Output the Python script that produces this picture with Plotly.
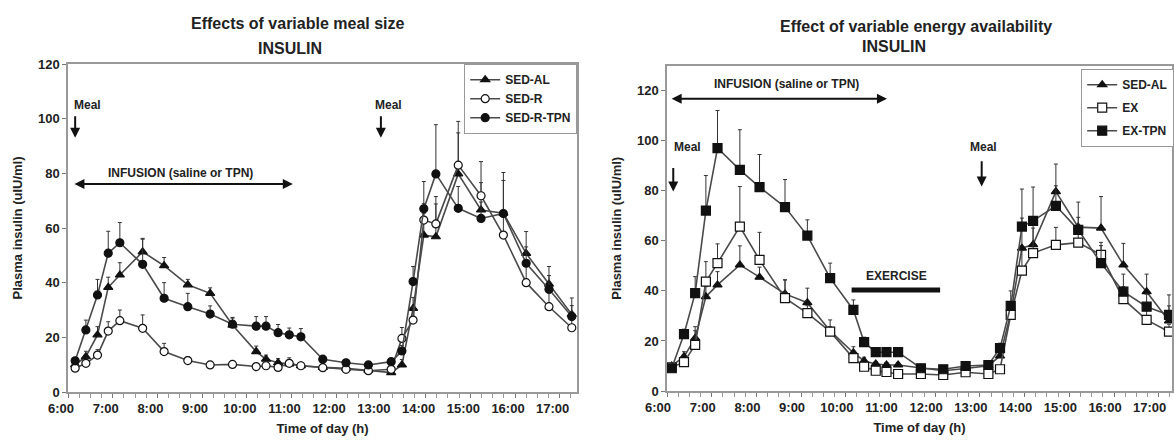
import plotly.graph_objects as go

# ---------------- data (left panel: variable meal size) ----------------
t_left = [6.16, 6.40, 6.66, 6.90, 7.16, 7.67, 8.15, 8.68, 9.18, 9.68, 10.21, 10.43, 10.70, 10.95, 11.21,
          11.70, 12.22, 12.72, 13.23, 13.47, 13.72, 13.96, 14.23, 14.73, 15.24, 15.74, 16.25, 16.76, 17.27]
sed_al_l = [10, 12.9, 20.9, 38.3, 42.8, 51.3, 46.2, 39.2, 36.1, 24.5, 14.8, 12.0, 10.7, 10.3, 9.6,
            9.0, 8.7, 8.0, 7.1, 9.9, 30.6, 57.4, 56.8, 79.8, 66.6, 65.4, 50.7, 39.5, 28.4]
sed_al_l_err = [1, 2, 3, 3.7, 4.5, 4.6, 3, 2, 2, 2.5, 2, 1.5, 1.5, 1, 1,
                1, 1, 1, 1, 2, 4, 8, 12, 15, 10, 12, 8, 6.4, 6]
sed_r = [8.7, 10.5, 13.5, 22.3, 26.1, 23.3, 14.8, 11.5, 9.9, 10.1, 9.3, 9.6, 9.0, 10.5, 9.6,
         8.9, 8.3, 7.8, 8.3, 19.6, 26.3, 62.9, 61.5, 83.0, 71.8, 57.4, 40.0, 31.2, 23.5]
sed_r_err = [1, 1, 2, 3.4, 3.9, 4.9, 3, 1.5, 1, 1, 1, 1, 1, 2, 1,
             1, 1, 1, 1, 4, 5, 6, 10, 16, 12.5, 8, 6, 5, 4]
sed_r_tpn = [11.4, 22.7, 35.5, 50.8, 54.6, 46.7, 34.3, 31.2, 28.5, 24.8, 24.1, 24.1, 21.7, 20.9, 20.2,
             12.0, 10.7, 9.9, 11.1, 15.0, 40.4, 67.0, 79.8, 67.2, 63.5, 65.3, 47.1, 37.6, 27.6]
sed_r_tpn_err = [1, 3.6, 5.7, 8, 7.4, 9.5, 5.7, 4.9, 3, 2.5, 3.5, 3.5, 3, 2.5, 3,
                 1, 1, 1, 1, 2, 5.5, 10, 18, 8, 6, 15, 6, 5, 4]

# ---------------- data (right panel: variable energy availability) ----------------
t_right = [6.105, 6.38, 6.63, 6.87, 7.13, 7.63, 8.07, 8.64, 9.14, 9.65, 10.17, 10.41, 10.67, 10.91, 11.17,
           11.68, 12.18, 12.68, 13.19, 13.45, 13.69, 13.94, 14.19, 14.70, 15.20, 15.71, 16.21, 16.73, 17.23]
sed_al_r = [10, 13.7, 21.1, 37.7, 42.4, 50.4, 45.5, 38.8, 35.3, 24.0, 15.3, 12.0, 10.8, 10.4, 10.4,
            9.1, 8.1, 9.0, 10.1, 14.0, 31.0, 57.1, 58.5, 79.7, 65.5, 65.1, 50.4, 39.7, 28.0]
sed_al_r_err = [1, 2, 3, 4, 5.3, 7.6, 4, 5.6, 5.8, 4.4, 2.4, 1.5, 1, 1, 1,
                1, 1, 1, 1, 2, 4, 12, 10, 11, 10, 12.6, 8.6, 7, 6]
ex = [9.5, 11.5, 18.4, 43.7, 51.1, 65.7, 52.4, 37.1, 31.1, 23.7, 13.1, 9.7, 8.1, 7.6, 6.8,
      6.8, 6.4, 7.5, 6.8, 8.7, 30.4, 48.1, 55.1, 58.4, 59.3, 54.4, 36.7, 28.4, 23.7]
ex_err = [1, 1.5, 7.3, 8, 7.7, 16, 11, 7.3, 3, 2, 1.5, 1, 1, 1, 1,
          1, 1, 1, 1, 1, 4, 8, 10, 7, 6, 5, 5, 4, 3]
ex_tpn = [9.1, 22.7, 39.1, 72.1, 97.1, 88.4, 81.5, 73.5, 62.1, 45.1, 32.4, 19.5, 15.5, 15.5, 15.5,
          9.1, 8.7, 10.0, 10.4, 17.1, 34.0, 65.7, 68.0, 74.0, 64.4, 51.1, 39.7, 33.7, 30.4]
ex_tpn_err = [1, 2, 6.6, 14, 15, 16, 13, 11, 6.3, 6, 4, 2, 1, 1, 1,
              1, 1, 1, 1, 2, 6, 15, 13.5, 8, 5, 7, 7, 5, 8]

hour_vals = list(range(6, 18))
hour_text = [f"{h}:00" for h in hour_vals]

FONT = "Liberation Sans, Arial, sans-serif"
LINE_C = "#4a4a4a"
MARK_C = "#111111"
TXT_C = "#222222"


def series(x, y, err, name, symbol, filled, xa, ya, legend):
    return go.Scatter(
        x=x, y=y, name=name, mode="lines+markers", xaxis=xa, yaxis=ya, legend=legend,
        legendgroup=name + legend,
        line=dict(color=LINE_C, width=1.6),
        marker=dict(symbol=symbol, size=8 if symbol != "square" else 9,
                    color=MARK_C if filled else "white",
                    line=dict(color=MARK_C, width=1.2)),
        error_y=dict(type="data", symmetric=False, array=err, arrayminus=[0] * len(err),
                     color="#333333", thickness=1, width=2),
    )


fig = go.Figure()
fig.add_trace(series(t_left, sed_al_l, sed_al_l_err, "SED-AL", "triangle-up", True, "x", "y", "legend"))
fig.add_trace(series(t_left, sed_r, sed_r_err, "SED-R", "circle", False, "x", "y", "legend"))
fig.add_trace(series(t_left, sed_r_tpn, sed_r_tpn_err, "SED-R-TPN", "circle", True, "x", "y", "legend"))
fig.add_trace(series(t_right, sed_al_r, sed_al_r_err, "SED-AL", "triangle-up", True, "x2", "y2", "legend2"))
fig.add_trace(series(t_right, ex, ex_err, "EX", "square", False, "x2", "y2", "legend2"))
fig.add_trace(series(t_right, ex_tpn, ex_tpn_err, "EX-TPN", "square", True, "x2", "y2", "legend2"))

W, H = 1174, 441
tickfont = dict(family=FONT, size=13, color=TXT_C, weight="bold")
titlefont = dict(family=FONT, size=13, color=TXT_C, weight="bold")


def xaxis(domain, rng, anchor, shift):
    return dict(domain=domain, range=rng, anchor=anchor, tickvals=hour_vals, ticktext=hour_text,
                ticks="outside", ticklen=4, tickcolor="#777", tickfont=tickfont, ticklabelshift=shift,
                minor=dict(dtick=0.25, tick0=6, ticks="outside", ticklen=4, tickcolor="#999"),
                showline=True, mirror=True, linecolor="#999", linewidth=1.5, showgrid=False, zeroline=False,
                automargin=False,
                title=dict(text="Time of day (h)", font=titlefont, standoff=9))


def yaxis(domain, rng, anchor):
    return dict(domain=domain, range=rng, anchor=anchor, tickvals=[0, 20, 40, 60, 80, 100, 120],
                ticks="outside", ticklen=4, tickcolor="#777", tickfont=tickfont,
                showline=True, mirror=True, linecolor="#999", linewidth=1.5, showgrid=False, zeroline=False,
                automargin=False,
                title=dict(text="Plasma insulin (uIU/ml)", font=titlefont, standoff=12))


ann = []


def text(x, y, s, xref, yref, size=12, xanchor="center"):
    ann.append(dict(x=x, y=y, xref=xref, yref=yref, text=s, showarrow=False, xanchor=xanchor,
                    yanchor="middle",
                    font=dict(family=FONT, size=size, color=TXT_C, weight="bold")))


def arrow(x0, y0, x1, y1, xref, yref, both=False):
    ann.append(dict(x=x1, y=y1, ax=x0, ay=y0, xref=xref, yref=yref, axref=xref, ayref=yref, text="",
                    showarrow=True, arrowhead=2, arrowsize=1, arrowwidth=2, arrowcolor="#111",
                    arrowside="end+start" if both else "end", startarrowhead=2, startarrowsize=1))


# titles
text(298 / W, 1 - 23 / H, "Effects of variable meal size", "paper", "paper", 16)
text(290 / W, 1 - 48 / H, "INSULIN", "paper", "paper", 16)
text(916 / W, 1 - 27 / H, "Effect of variable energy availability", "paper", "paper", 16)
text(894 / W, 1 - 47 / H, "INSULIN", "paper", "paper", 16)

# left panel annotations
text(6.09, 105, "Meal", "x", "y", 12, "left")
arrow(6.16, 101.4, 6.16, 93.0, "x", "y")
text(13.16, 105, "Meal", "x", "y", 12)
arrow(13.0, 101.4, 13.0, 93.0, "x", "y")
arrow(6.11, 76.1, 11.03, 76.1, "x", "y", both=True)
text(8.51, 80.3, "INFUSION (saline or TPN)", "x", "y", 12)

# right panel annotations
text(6.11, 97.6, "Meal", "x2", "y2", 12, "left")
arrow(6.14, 89.7, 6.14, 79.7, "x2", "y2")
text(13.09, 97.6, "Meal", "x2", "y2", 12)
arrow(13.04, 92.4, 13.04, 81.7, "x2", "y2")
arrow(6.07, 116.8, 10.92, 116.8, "x2", "y2", both=True)
text(8.68, 122.8, "INFUSION (saline or TPN)", "x2", "y2", 12)
text(11.13, 46.0, "EXERCISE", "x2", "y2", 12)

shapes = [dict(type="line", xref="x2", yref="y2", x0=10.13, x1=12.11, y0=40.4, y1=40.4,
               line=dict(color="#111", width=5))]

legend_common = dict(bgcolor="white", bordercolor="#999", borderwidth=1.2, yanchor="top",
                     font=dict(family=FONT, size=12, color=TXT_C, weight="bold"), itemwidth=30,
                     traceorder="grouped")

fig.update_layout(
    width=W, height=H, margin=dict(l=0, r=0, t=0, b=0, autoexpand=False),
    paper_bgcolor="white", plot_bgcolor="white",
    xaxis=xaxis([68 / W, 577 / W], [6, 6 + 509 / 44.7], "y", -7),
    yaxis=yaxis([49 / H, 377 / H], [0, 120], "x"),
    xaxis2=xaxis([667 / W, 1172 / W], [6, 6 + 505 / 44.7], "y2", -9),
    yaxis2=yaxis([50 / H, 375.3 / H], [0, 130], "x2"),
    legend=dict(x=577 / W, y=1 - 64 / H, xanchor="right", tracegroupgap=0, **legend_common),
    legend2=dict(x=1.0, y=1 - 69 / H, xanchor="right", tracegroupgap=4, **legend_common),
    annotations=ann, shapes=shapes, showlegend=True,
)

fig.write_html("out.html", config={"displayModeBar": False},
               post_script="document.body.style.margin='0px';")
